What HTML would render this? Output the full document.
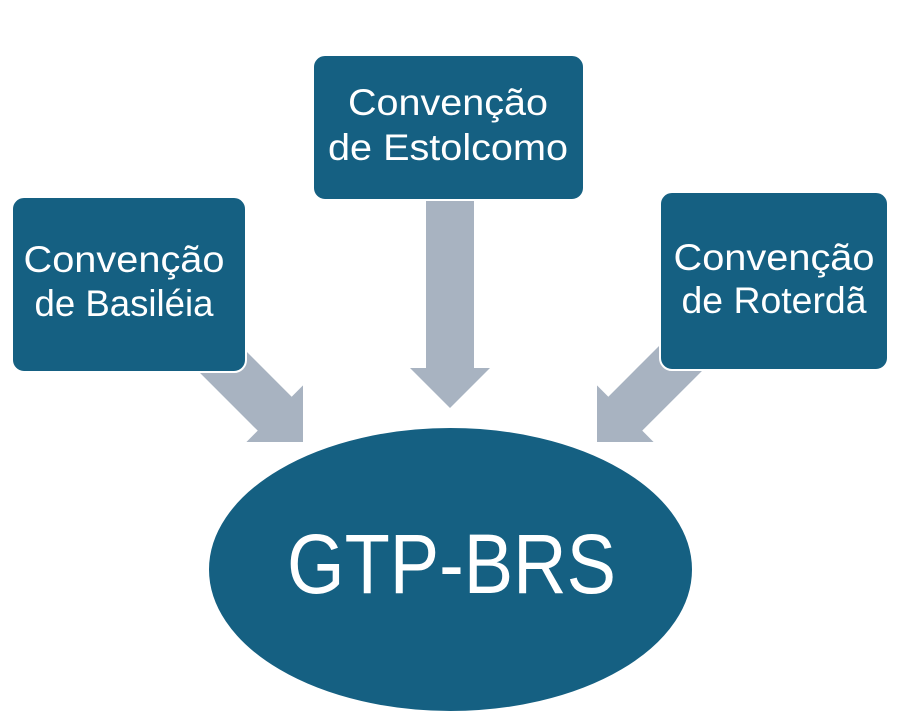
<!DOCTYPE html>
<html>
<head>
<meta charset="utf-8">
<style>
  html, body { margin: 0; padding: 0; background: #ffffff; }
  svg { display: block; }
  text { font-family: "Liberation Sans", Arial, sans-serif; fill: #ffffff; }
</style>
</head>
<body>
<svg width="902" height="720" viewBox="0 0 902 720" xmlns="http://www.w3.org/2000/svg">
  <rect x="0" y="0" width="902" height="720" fill="#ffffff"/>

  <!-- Arrows (drawn beneath boxes) -->
  <g fill="#a8b3c1">
    <!-- middle arrow -->
    <polygon transform="translate(450,408)" points="-24,-215 24,-215 24,-40 40,-40 0,0 -40,-40 -24,-40"/>
    <!-- left arrow -->
    <polygon transform="translate(303,442) rotate(-45)" points="-24,-210 24,-210 24,-40 40,-40 0,0 -40,-40 -24,-40"/>
    <!-- right arrow -->
    <polygon transform="translate(597,442) rotate(45)" points="-24,-210 24,-210 24,-40 40,-40 0,0 -40,-40 -24,-40"/>
  </g>

  <!-- Boxes -->
  <g fill="#156082" stroke="#ffffff" stroke-width="2">
    <rect x="12" y="197" width="234" height="175" rx="12" ry="12"/>
    <rect x="313" y="55" width="271" height="145" rx="12" ry="12"/>
    <rect x="660" y="192" width="228" height="178" rx="12" ry="12"/>
  </g>

  <!-- Ellipse -->
  <ellipse cx="450.5" cy="569.5" rx="242.5" ry="142.5" fill="#156082" stroke="#ffffff" stroke-width="2"/>

  <!-- Box texts -->
  <g font-size="37" text-anchor="middle">
    <text x="124" y="272" textLength="201" lengthAdjust="spacingAndGlyphs">Convenção</text>
    <text x="124" y="316" textLength="179" lengthAdjust="spacingAndGlyphs">de Basiléia</text>

    <text x="448" y="115" textLength="200" lengthAdjust="spacingAndGlyphs">Convenção</text>
    <text x="448" y="160" textLength="240" lengthAdjust="spacingAndGlyphs">de Estolcomo</text>

    <text x="774" y="270" textLength="201" lengthAdjust="spacingAndGlyphs">Convenção</text>
    <text x="774" y="313" textLength="185" lengthAdjust="spacingAndGlyphs">de Roterdã</text>
  </g>

  <!-- Ellipse text -->
  <text x="451.5" y="593" font-size="84" text-anchor="middle" textLength="329" lengthAdjust="spacingAndGlyphs">GTP-BRS</text>
</svg>
</body>
</html>
